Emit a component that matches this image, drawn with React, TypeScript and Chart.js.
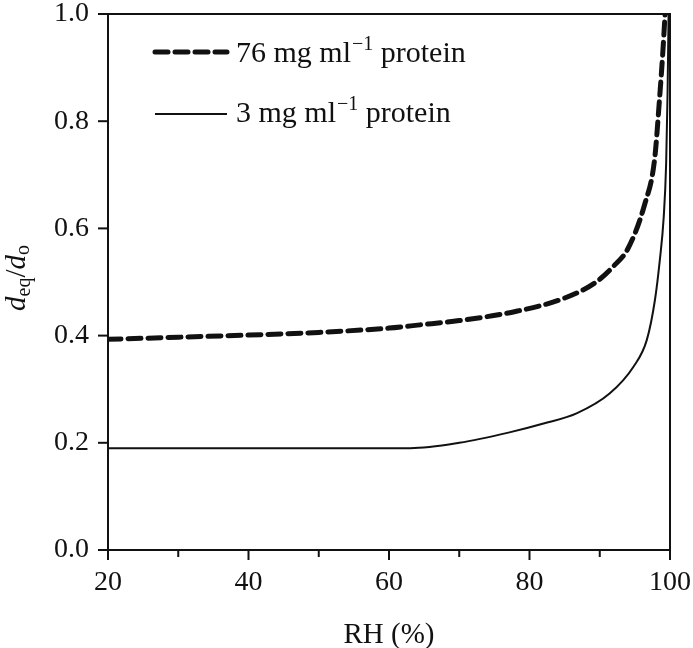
import React, { useEffect, useRef } from "react";
import { Chart, registerables } from "chart.js";

Chart.register(...registerables);

// RH (%) values and d_eq/d_o readings
const rh76 = [20, 30, 40, 50, 60, 64.4, 70, 78, 85, 89.5, 92, 94, 96.4, 97.8, 98.5, 99, 99.3];
const d76 = [0.393, 0.397, 0.401, 0.406, 0.414, 0.42, 0.428, 0.445, 0.47, 0.5, 0.53, 0.562, 0.645, 0.728, 0.84, 0.933, 1.0];

const rh3 = [20, 63, 70, 77, 82, 86.7, 91.4, 94.8, 96.7, 97.85, 98.55, 99.1, 99.45, 99.65, 99.8];
const d3 = [0.19, 0.19, 0.2, 0.219, 0.236, 0.255, 0.292, 0.342, 0.392, 0.466, 0.541, 0.62, 0.72, 0.85, 1.0];

const xTickValues = [20, 30, 40, 50, 60, 70, 80, 90, 100];
const xMajorLabels = [20, 40, 60, 80, 100];
const yTickValues = [0, 0.2, 0.4, 0.6, 0.8, 1.0];

const legendLabels = ["76 mg ml", "3 mg ml"];
const legendSup = "\u22121";
const legendTail = " protein";
const xTitle = "RH (%)";

const FONT = '"Liberation Serif", "Times New Roman", serif';

const zeroPad = (s: any) => {
  s.paddingTop = 0;
  s.paddingBottom = 0;
  s.paddingLeft = 0;
  s.paddingRight = 0;
};

const decorPlugin = {
  id: "decor",
  afterDraw(chart: any) {
    const ctx = chart.ctx as CanvasRenderingContext2D;
    const area = chart.chartArea;
    const xs = chart.scales.x;
    const ys = chart.scales.y;
    ctx.save();
    ctx.strokeStyle = "#111";
    ctx.fillStyle = "#111";
    ctx.lineWidth = 2;
    ctx.lineCap = "butt";
    // top and right frame lines
    ctx.beginPath();
    ctx.moveTo(area.left - 10, area.top);
    ctx.lineTo(area.right, area.top);
    ctx.lineTo(area.right, area.bottom + 10);
    ctx.stroke();
    // x ticks
    xTickValues.forEach((v) => {
      const px = xs.getPixelForValue(v);
      const major = xMajorLabels.includes(v);
      ctx.beginPath();
      ctx.moveTo(px, area.bottom);
      ctx.lineTo(px, area.bottom + (major ? 10 : 7));
      ctx.stroke();
    });
    // y ticks
    yTickValues.forEach((v) => {
      const py = ys.getPixelForValue(v);
      ctx.beginPath();
      ctx.moveTo(area.left, py);
      ctx.lineTo(area.left - 10, py);
      ctx.stroke();
    });

    // x title
    ctx.font = `29px ${FONT}`;
    ctx.textAlign = "center";
    ctx.textBaseline = "alphabetic";
    ctx.fillText(xTitle, (area.left + area.right) / 2, 643);

    // y title: d_eq / d_o (rotated)
    ctx.save();
    ctx.translate(25, 278);
    ctx.rotate(-Math.PI / 2);
    const big = `italic 29px ${FONT}`;
    const small = `20px ${FONT}`;
    const parts: [string, string, number][] = [
      ["d", big, 0],
      ["eq", small, 5],
      ["/", `29px ${FONT}`, 0],
      ["d", big, 0],
      ["o", small, 4],
    ];
    let total = 0;
    parts.forEach(([t, f]) => {
      ctx.font = f;
      total += ctx.measureText(t).width;
    });
    let cx = -total / 2;
    ctx.textAlign = "left";
    parts.forEach(([t, f, dy]) => {
      ctx.font = f;
      ctx.fillText(t, cx, dy);
      cx += ctx.measureText(t).width;
    });
    ctx.restore();

    // legend
    const rows = [
      { y: 52, base: 62, dash: [13, 7], width: 5, label: legendLabels[0] },
      { y: 114, base: 122, dash: [], width: 2, label: legendLabels[1] },
    ];
    rows.forEach((r) => {
      ctx.save();
      ctx.lineWidth = r.width;
      ctx.setLineDash(r.dash);
      ctx.lineCap = r.dash.length ? "round" : "butt";
      ctx.beginPath();
      ctx.moveTo(155, r.y);
      ctx.lineTo(227, r.y);
      ctx.stroke();
      ctx.restore();
      let tx = 236;
      ctx.textAlign = "left";
      ctx.font = `30px ${FONT}`;
      ctx.fillText(r.label, tx, r.base);
      tx += ctx.measureText(r.label).width + 1;
      ctx.font = `20px ${FONT}`;
      ctx.fillText(legendSup, tx, r.base - 12);
      tx += ctx.measureText(legendSup).width;
      ctx.font = `30px ${FONT}`;
      ctx.fillText(legendTail, tx, r.base);
    });
    ctx.restore();
  },
};

export default function App() {
  const ref = useRef<HTMLCanvasElement>(null);
  useEffect(() => {
    if (!ref.current) return;
    const chart = new Chart(ref.current, {
      type: "line",
      data: {
        datasets: [
          {
            label: "76 mg ml-1 protein",
            data: rh76.map((x, i) => ({ x, y: d76[i] })),
            borderColor: "#111",
            borderWidth: 5,
            borderDash: [13, 7],
            borderCapStyle: "round",
            pointRadius: 0,
            fill: false,
            cubicInterpolationMode: "monotone",
          },
          {
            label: "3 mg ml-1 protein",
            data: rh3.map((x, i) => ({ x, y: d3[i] })),
            borderColor: "#111",
            borderWidth: 2,
            pointRadius: 0,
            fill: false,
            cubicInterpolationMode: "monotone",
          },
        ],
      },
      options: {
        animation: false,
        responsive: false,
        layout: { padding: { top: 14, right: 23, left: 0, bottom: 0 } },
        plugins: { legend: { display: false }, tooltip: { enabled: false } },
        scales: {
          x: {
            type: "linear",
            min: 20,
            max: 100,
            afterFit: (s: any) => {
              s.height = 98;
              zeroPad(s);
            },
            afterBuildTicks: (s: any) => {
              s.ticks = xMajorLabels.map((v) => ({ value: v }));
            },
            ticks: {
              color: "#111",
              font: { family: FONT, size: 28 },
              padding: 6,
              maxRotation: 0,
            },
            grid: { display: true, drawOnChartArea: false, drawTicks: true, tickLength: 10, color: "rgba(0,0,0,0)" },
            border: { display: true, color: "#111", width: 2 },
          },
          y: {
            type: "linear",
            min: 0,
            max: 1,
            afterFit: (s: any) => {
              s.width = 108;
              zeroPad(s);
            },
            afterBuildTicks: (s: any) => {
              s.ticks = yTickValues.map((v) => ({ value: v }));
            },
            ticks: {
              color: "#111",
              font: { family: FONT, size: 28 },
              padding: 9,
              callback: (v: any) => Number(v).toFixed(1),
            },
            grid: { display: true, drawOnChartArea: false, drawTicks: true, tickLength: 10, color: "rgba(0,0,0,0)" },
            border: { display: true, color: "#111", width: 2 },
          },
        },
      },
      plugins: [decorPlugin],
    } as any);
    return () => chart.destroy();
  }, []);
  return (
    <div style={{ position: "fixed", left: 0, top: 0, width: 693, height: 648, background: "#fff" }}>
      <canvas ref={ref} width={693} height={648} style={{ width: 693, height: 648 }} />
    </div>
  );
}
